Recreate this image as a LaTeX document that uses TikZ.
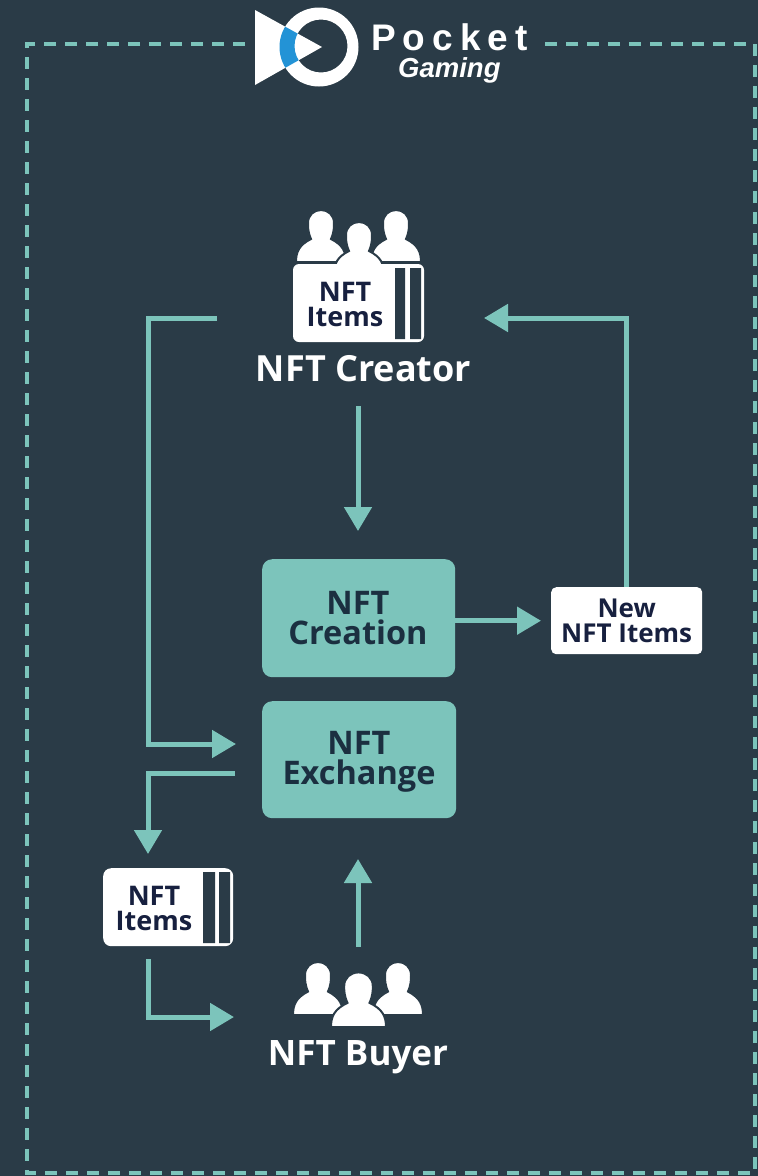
\documentclass[tikz,border=0pt]{standalone}
\usepackage{fontspec}
\setmainfont{Open Sans}
\newfontfamily\logofont{Liberation Sans}
\usetikzlibrary{arrows.meta}
\definecolor{bgc}{HTML}{2A3B47}
\definecolor{teal}{HTML}{7CC4BB}
\definecolor{navy}{HTML}{17203F}
\definecolor{ink}{HTML}{1B2F40}
\definecolor{logoblue}{HTML}{2393D6}
\tikzset{
  x=1pt,y=-1pt,
  flow/.style={draw=teal,line width=5pt,-{Triangle[length=24pt,width=27pt]}},
  procbox/.style={fill=teal,rounded corners=10pt,anchor=north west,inner sep=0pt,text=ink,align=center,font=\bfseries\fontsize{32.5}{30}\selectfont},
  cardtext/.style={text=navy,align=center,inner sep=0pt,font=\bfseries\fontsize{27}{25}\selectfont},
  caption/.style={text=white,inner sep=0pt,font=\bfseries\fontsize{36}{36}\selectfont},
  pics/personicon/.style={code={
    \fill[white,draw=#1,line width=2pt] (-25,0) .. controls (-25,-10) and (-22,-17) .. (-10,-23)
      .. controls (-13,-30) and (-13,-34) .. (-13,-39)
      .. controls (-13,-47) and (-7,-52) .. (0,-52)
      .. controls (7,-52) and (13,-47) .. (13,-39)
      .. controls (13,-34) and (13,-30) .. (10,-23)
      .. controls (22,-17) and (25,-10) .. (25,0) -- cycle;
  }}
}
\begin{document}
\begin{tikzpicture}
\useasboundingbox (0,0) rectangle (758,1176);
\fill[bgc] (0,0) rectangle (758,1176);
% border
\coordinate (bA) at (245,44);
\coordinate (bB) at (27,44);
\coordinate (bC) at (27,1173);
\coordinate (bD) at (755,1173);
\coordinate (bE) at (755,44);
\coordinate (bF) at (540,44);
\draw[teal,line width=3.5pt,dash pattern=on 12pt off 9pt] (bA) -- (bB) -- (bC) -- (bD) -- (bE) -- (bF);
% logo
\fill[white] (255,10) -- (255,85) -- (322,47) -- cycle;
\fill[white,even odd rule] (319,47) circle[radius=39.5] (321,46) circle[radius=26.5];
\begin{scope}
  \clip (255,10) -- (255,85) -- (322,47) -- cycle;
  \fill[logoblue,even odd rule] (319,47) circle[radius=39.5] (321,46) circle[radius=26.5];
\end{scope}
\node[text=white,anchor=base west,inner sep=0pt,font=\logofont\bfseries\fontsize{37}{37}\selectfont] (pocket) at (371,50) {P\kern7pt o\kern7pt c\kern7pt k\kern7pt e\kern7pt t};
\node[text=white,anchor=base west,inner sep=0pt,font=\logofont\bfseries\itshape\fontsize{27.5}{27.5}\selectfont] (gaming) at (398,77) {Gaming};
% creator icon
\pic at (321,262) {personicon=bgc};
\pic at (396,262) {personicon=bgc};
\pic at (359,274) {personicon=bgc};
\fill[white,rounded corners=6pt] (293,264) rectangle (424,342);
\node[minimum width=131pt,minimum height=78pt,inner sep=0pt] (topcard) at (358.5,303) {};
\fill[bgc] (395,268) rectangle (405,339) (410,268) rectangle (421,339);
\node[cardtext] (toptext) at (345,304) {NFT\\Items};
\node[caption] (creator) at (363.5,369) {NFT Creator};
\coordinate (creatorL) at (217,318);
\coordinate (creatorR) at (484,318);
\coordinate (creatorB) at (358,406);
% boxes
\node[procbox,minimum width=193pt,minimum height=118pt] (creation) at (262,559) {};
\node[text=ink,align=center,inner sep=0pt,font=\bfseries\fontsize{32.5}{30}\selectfont] (creationtext) at (358,618) {NFT\\Creation};
\node[procbox,minimum width=194pt,minimum height=117pt] (exchange) at (262,701) {};
\node[text=ink,align=center,inner sep=0pt,font=\bfseries\fontsize{32.5}{30}\selectfont] (exchangetext) at (359,762) {NFT\\Exchange};
\node[fill=white,rounded corners=5pt,anchor=north west,minimum width=151pt,minimum height=67pt,inner sep=0pt,text=navy,align=center,font=\bfseries\fontsize{26}{24.5}\selectfont] (newitems) at (551,587) {New\\NFT Items};
% lower card
\node[fill=white,rounded corners=8pt,anchor=north west,minimum width=130pt,minimum height=78pt,inner sep=0pt] (lowcard) at (103,868) {};
\fill[bgc] (203,872) rectangle (215,943) (219,872) rectangle (230,943);
\node[cardtext] (lowtext) at (154,908) {NFT\\Items};
% buyer icon
\pic[yscale=1.02] at (318,1015) {personicon=bgc};
\pic[yscale=1.02] at (398,1015) {personicon=bgc};
\pic[xscale=1.1,yscale=1.05] at (358.5,1027) {personicon=bgc};
\node[caption,font=\bfseries\fontsize{35}{34}\selectfont] (buyer) at (358,1057) {NFT Buyer};
\coordinate (buyerL) at (234,1017);
\coordinate (buyerT) at (358,947);
% connectors
\coordinate (exL1) at (236,744);
\coordinate (exL2) at (235,773);
\coordinate (exB) at (358,859);
\coordinate (creaT) at (358,531);
\coordinate (lowT) at (148,854);
\coordinate (lowB) at (148,959);
\draw[flow] (creatorL) -| (148,744) -- (exL1);
\draw[flow] (creatorB) -- (creaT);
\draw[flow,shorten >=10pt] (creation.east |- newitems.west) -- (newitems.west);
\draw[flow] (newitems.north) |- (creatorR);
\draw[flow] (exL2) -| (lowT);
\draw[flow] (lowB) |- (buyerL);
\draw[flow] (buyerT) -- (exB);
\end{tikzpicture}
\end{document}
